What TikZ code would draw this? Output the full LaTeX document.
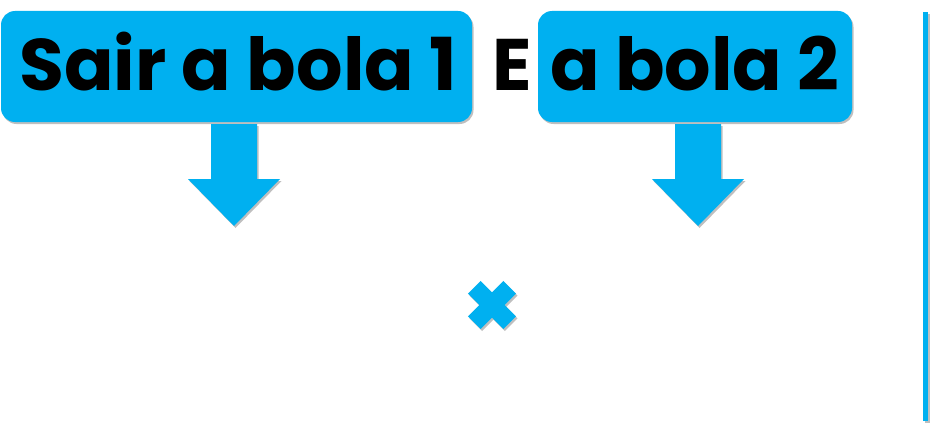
\documentclass[tikz,border=0pt]{standalone}
\usepackage{fontspec}
\setmainfont{Poppins}[BoldFont={* Bold}]
\usetikzlibrary{shadows}
\definecolor{sky}{HTML}{00B0F0}
\begin{document}
\begin{tikzpicture}[x=1pt,y=-1pt,
  shad/.style={drop shadow={shadow xshift=1.5pt,shadow yshift=-2pt,opacity=0.25,fill=black}},
  box/.style={fill=sky,rounded corners=14pt,shad},
  lbl/.style={inner sep=0pt,anchor=base west,font=\fontsize{73}{80}\selectfont\bfseries},
  barrow/.style={fill=sky,shad},
]
\useasboundingbox (0,0) rectangle (933,425);
\fill[white] (0,0) rectangle (933,425);
% boxes
\path[box] (1,11) rectangle (472,122);
\path[box] (538,11) rectangle (852,122);
\node[lbl] (t1) at (19,91) {Sair a bola 1};
\node[lbl] (tE) at (492,91) {E};
\node[lbl] (t2) at (550,91) {a bola 2};
% arrows
\path[barrow] (211,124) -- (257,124) -- (257,179) -- (280,179) -- (234,226) -- (188,179) -- (211,179) -- cycle;
\path[barrow] (675,124) -- (721,124) -- (721,179) -- (744,179) -- (698,226) -- (652,179) -- (675,179) -- cycle;
% cross
\begin{scope}[shift={(492,305)},rotate=45]
\path[fill=sky,shad] (-9,-25) -- (9,-25) -- (9,-9) -- (25,-9) -- (25,9) -- (9,9) -- (9,25) -- (-9,25) -- (-9,9) -- (-25,9) -- (-25,-9) -- (-9,-9) -- cycle;
\end{scope}
% vertical line
\path[fill=sky,shad] (923,12) rectangle (928,421);
\end{tikzpicture}
\end{document}
